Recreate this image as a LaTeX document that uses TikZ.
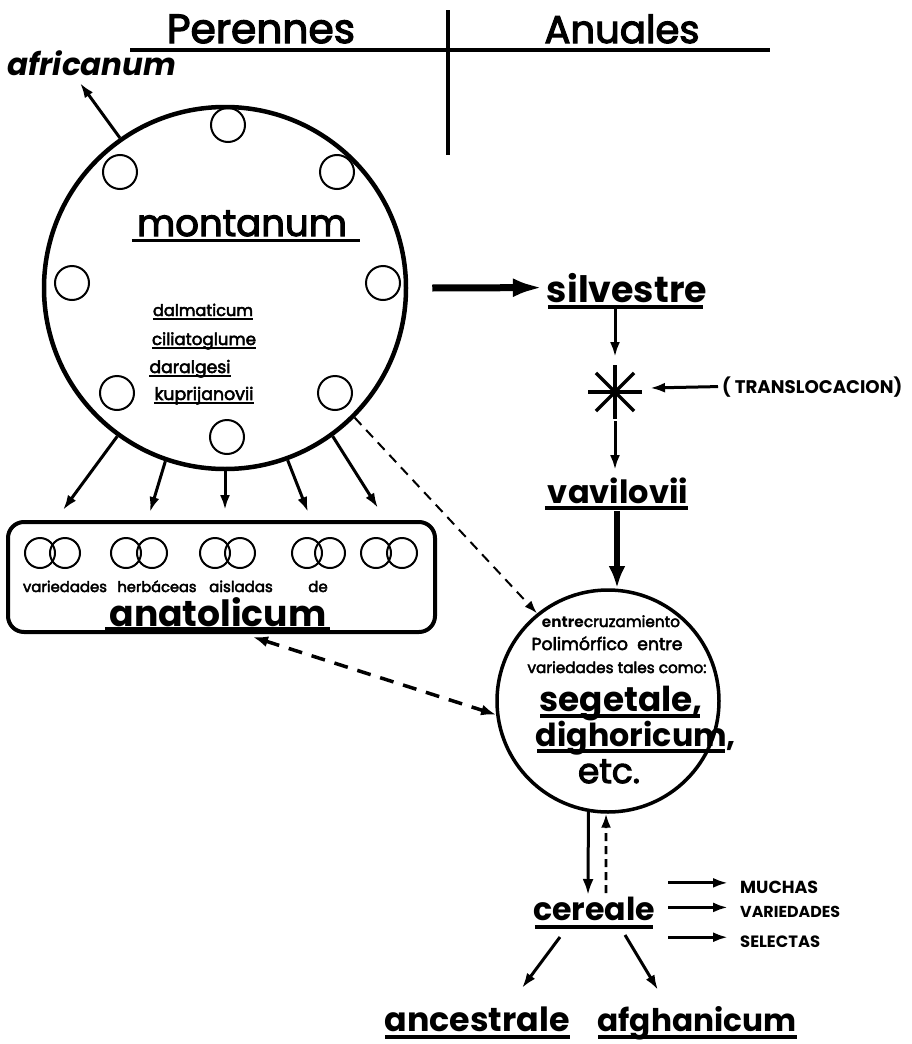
\documentclass[tikz,border=0pt]{standalone}
\usepackage{fontspec}
\setmainfont{Poppins}
\newfontfamily\medf[FakeBold=3]{Poppins}
\usepackage{graphicx}
\usetikzlibrary{arrows.meta,calc}
\newcommand{\fw}[2]{\resizebox{#1pt}{!}{#2}}
\begin{document}
\begin{tikzpicture}[x=1pt,y=-1pt,
  lbl/.style={inner sep=0pt,anchor=base},
  lblw/.style={inner sep=0pt,anchor=base west},
  arr/.style={line width=3pt,-{Latex[length=15pt,width=10pt]}},
  ul/.style={line width=3.2pt},
  thinul/.style={line width=1.4pt},
  sm/.style={line width=2pt},
]
\useasboundingbox[fill=white] (0,0) rectangle (911,1044);

% header
\node[lbl] (per) at (261,43) {\fw{188}{\medf Perennes}};
\node[lbl] (anu) at (622,43) {\fw{155}{\medf Anuales}};
\draw[line width=3.5pt] (130,50) -- (770,50);
\draw[line width=3.5pt] (448,10) -- (448,155);

% montanum circle
\node[lbl] (afr) at (92,75) {\fw{169}{\bfseries\itshape africanum}};
\node[circle,draw,line width=4.5pt,minimum size=362pt,inner sep=0pt] (mont) at (225,288) {};
\foreach \x/\y in {228/125,120/172,337/172,72/283,383/283,117/393,335/393,227/437}
  \draw[sm] (\x,\y) circle[radius=17pt];
\draw[arr] (mont.125) -- (80,83);

\node[lbl] (montt) at (242,236) {\fw{210}{\medf montanum}};
\draw[line width=3pt] ($(montt.base west)+(-5,4)$) -- ($(montt.base east)+(13,4)$);

\node[lbl] (dal) at (203,316) {\fw{100}{\medf dalmaticum}};
\node[lbl] (cil) at (204,345) {\fw{104}{\medf ciliatoglume}};
\node[lbl] (dar) at (190,373) {\fw{81}{\medf daralgesi}};
\node[lbl] (kup) at (204,400) {\fw{99}{\medf kuprijanovii}};
\foreach \n in {dal,cil,dar,kup}
  \draw[thinul] ($(\n.base west)+(0,3)$) -- ($(\n.base east)+(0,3)$);

% arrows to anatolicum box
\coordinate (t1) at (63,510);
\coordinate (t2) at (150,512);
\coordinate (t3) at (225,510);
\coordinate (t4) at (308,512);
\coordinate (t5) at (378,508);
\draw[arr] (mont.-126) -- (t1);
\draw[arr] (mont.-109) -- (t2);
\draw[arr] (mont.-90) -- (t3);
\draw[arr] (mont.-70) -- (t4);
\draw[arr] (mont.-54) -- (t5);

% anatolicum box
\node[draw,line width=4pt,rounded corners=16pt,minimum width=427pt,minimum height=110pt,inner sep=0pt] (box) at (221.5,577) {};
\foreach \a/\b in {40/65,126/152,215/240,307/330,376/402}
  {\draw[sm] (\a,553) circle[radius=15pt]; \draw[sm] (\b,553) circle[radius=15pt];}
\node[lbl] (w1) at (65,592) {\fw{84}{\medf variedades}};
\node[lbl] (w2) at (157,592) {\fw{79}{\medf herbáceas}};
\node[lbl] (w3) at (241,592) {\fontsize{15}{17}\selectfont\medf aisladas};
\node[lbl] (w4) at (318,592) {\fontsize{15}{17}\selectfont\medf de};
\node[lbl] (anat) at (218,626) {\fw{217}{\bfseries anatolicum}};
\draw[line width=5pt] (105,629) -- (330,629);

% right column
\node[lbl] (silv) at (627,302) {\fw{160}{\bfseries silvestre}};
\draw[ul] ($(silv.base west)+(1,5)$) -- ($(silv.base east)+(-4,5)$);
\draw[line width=7pt,-{Latex[length=30pt,width=19pt]},shorten >=4pt] ([xshift=24pt]mont.east) -- (silv.west);

\coordinate (star) at (615,392);
\foreach \a in {0,45,90,135}
  \draw[line width=3.5pt] ($(star)+(\a:27pt)$) -- ($(star)+(\a+180:27pt)$);
\draw[arr] ($(star)+(0,-83)$) -- ($(star)+(0,-35)$);

\node[lblw] (trans) at (722,393) {\fw{180}{\bfseries ( TRANSLOCACION)}};
\draw[arr] ([xshift=-4pt]trans.west) -- ($(star)+(35,-4)$);

\node[lbl] (vav) at (618,503) {\fw{140}{\bfseries vavilovii}};
\draw[ul] ($(vav.base west)+(-3,5)$) -- ($(vav.base east)+(0,5)$);
\draw[arr] ($(star)+(0,29)$) -- ($(star)+(0,78)$);

\node[circle,draw,line width=3.5pt,minimum size=222pt,inner sep=0pt] (low) at (608,701) {};
\draw[line width=6pt,-{Latex[length=22pt,width=17pt]}] ($(vav.base)+(-1,8)$) -- ($(vav.base)+(-1,85)$);

\node[lbl] (l1) at (611,627) {\fw{138}{\textbf{entre}{\medf cruzamiento}}};
\node[lbl] (l2) at (607,650) {\fw{151}{\medf Polimórfico\ \ entre}};
\node[lbl] (l3) at (617,673) {\fw{179}{\medf variedades tales como:}};
\node[lbl] (seg) at (621,711) {\fw{163}{\bfseries segetale,}};
\draw[line width=3.5pt] (540,716) -- (700,716);
\node[lbl] (dig) at (636,746) {\fw{200}{\bfseries dighoricum,}};
\draw[line width=4pt] (537,751) -- (725,751);
\node[lbl] (etc) at (609,783) {\fw{62}{\medf etc.}};

% dashed connectors
\coordinate (c1) at (253,637);
\draw[line width=2pt,dash pattern=on 10pt off 7pt,-{Latex[length=13pt,width=9pt]}] (mont.-45) -- (low.129);
\draw[line width=3.5pt,dash pattern=on 14pt off 10pt,{Latex[length=15pt,width=11pt]}-{Latex[length=15pt,width=11pt]}] (c1) -- (low.187);

% cereale
\node[lbl] (cer) at (594,920) {\fw{122}{\bfseries cereale}};
\draw[ul] ($(cer.base west)+(2,7)$) -- ($(cer.base east)+(-2,7)$);
\draw[line width=3pt,-{Latex[length=16pt,width=11pt]}] (low.-100) -- (588,895);
\draw[line width=2.6pt,dash pattern=on 8pt off 5pt,-{Latex[length=14pt,width=10pt]}] (606,893) -- (low.-91);

\node[lblw] (much) at (740,893) {\fw{78}{\bfseries MUCHAS}};
\node[lblw] (vari) at (740,917) {\fw{100}{\bfseries VARIEDADES}};
\node[lblw] (sel) at (740,947) {\fw{80}{\bfseries SELECTAS}};
\foreach \n in {much,vari,sel}
  \draw[arr] ($(\n.west)+(-72,-4)$) -- ($(\n.west)+(-12,-4)$);

\node[lbl] (anc) at (477,1031) {\fw{185}{\bfseries ancestrale}};
\node[lbl] (afg) at (697,1031) {\fw{199}{\bfseries afghanicum}};
\draw[ul] (385,1037) -- (570,1037);
\draw[ul] (598,1037) -- (797,1037);
\draw[arr] ($(cer.base)+(-34,17)$) -- (522,988);
\draw[arr] ($(cer.base)+(31,15)$) -- (658,990);
\end{tikzpicture}
\end{document}
